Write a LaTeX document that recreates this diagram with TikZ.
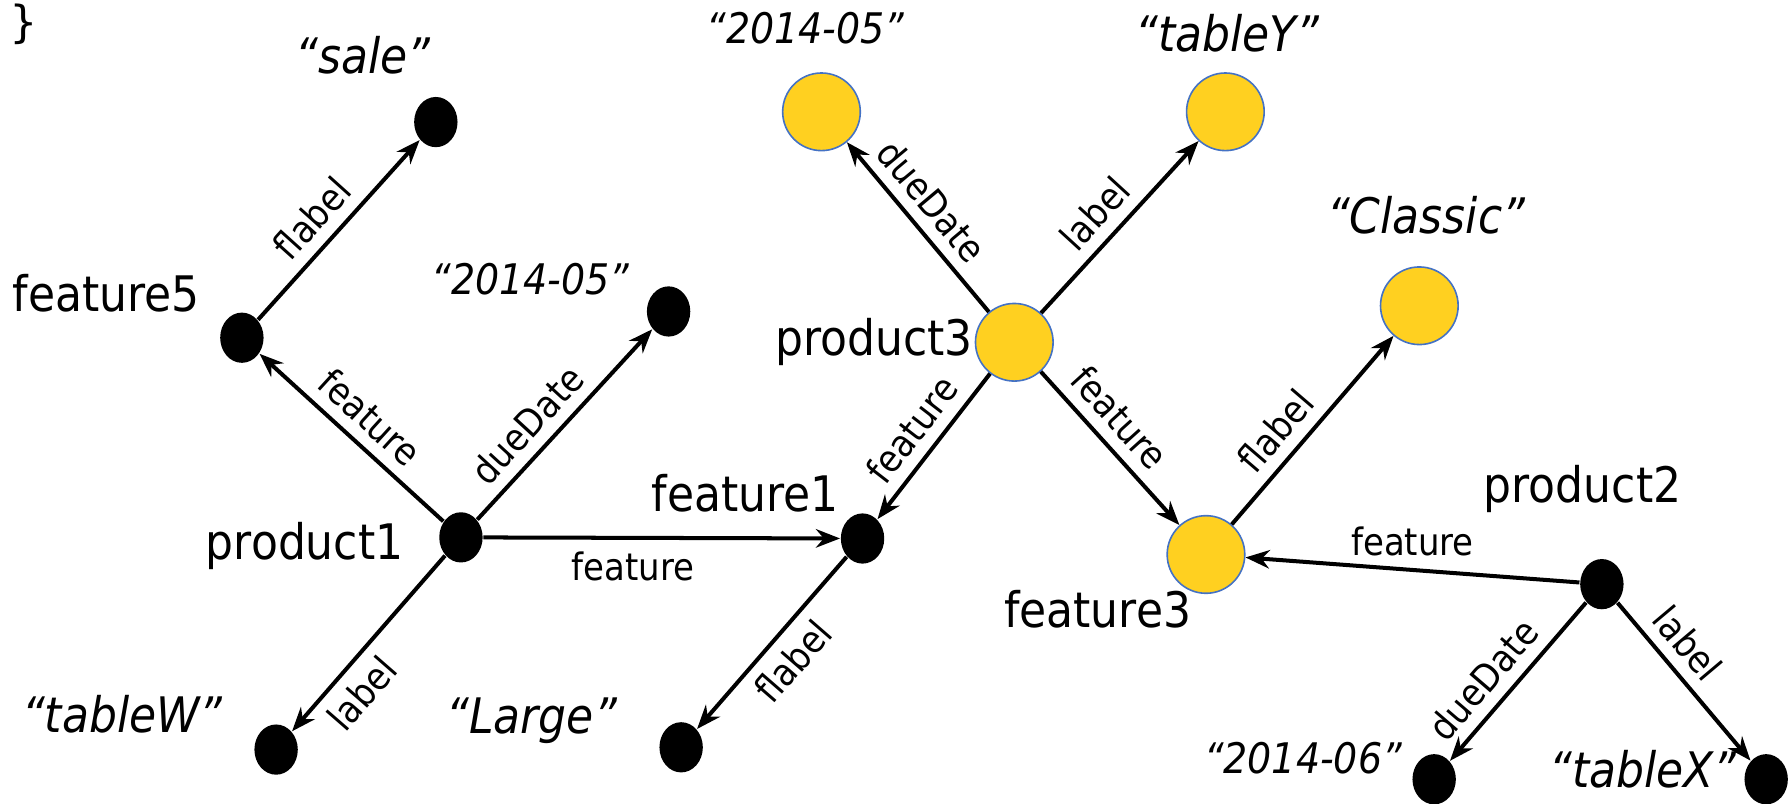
\documentclass[tikz,border=0pt]{standalone}
\usepackage{fontspec}
\setmainfont{DejaVu Sans}[FakeStretch=0.9]
\setmonofont{DejaVu Sans Mono}
\usetikzlibrary{arrows.meta,shapes.geometric}
\definecolor{gold}{RGB}{255,208,32}
\definecolor{rim}{RGB}{68,114,196}
\begin{document}
\begin{tikzpicture}[x=0.01cm,y=-0.01cm,
  bnode/.style={ellipse,fill=black,inner sep=0pt,minimum width=0.38cm,minimum height=0.44cm},
  ynode/.style={circle,fill=gold,draw=rim,line width=0.4pt,inner sep=0pt,minimum size=0.68cm},
  nlab/.style={anchor=base,inner sep=0pt,font=\fontsize{12.2}{14}\selectfont},
  vlab/.style={anchor=base,inner sep=0pt,font=\fontsize{12.2}{14}\selectfont\itshape},
  dlab/.style={anchor=base,inner sep=0pt,font=\fontsize{10.5}{12}\selectfont\itshape},
  elab/.style={font=\fontsize{9.4}{11}\selectfont,inner sep=2.8pt,sloped},
  hlab/.style={font=\fontsize{9.4}{11}\selectfont,inner sep=3pt},
  arr/.style={-{Stealth[length=6pt,width=4.6pt]},line width=1pt}
]
\useasboundingbox (0,0) rectangle (1568,704);

% brace
\node[anchor=center,inner sep=0pt,font=\fontsize{11}{13}\selectfont\ttfamily] (brace) at (21,21) {\}};

% black nodes
\node[bnode] (sale) at (382,107) {};
\node[bnode] (f5) at (212,296) {};
\node[bnode] (d1) at (586,273) {};
\node[bnode] (p1) at (404,471) {};
\node[bnode] (f1) at (756,472) {};
\node[bnode] (tw) at (242,657) {};
\node[bnode] (lg) at (597,655) {};
\node[bnode] (p2) at (1404,512) {};
\node[bnode] (d6) at (1257,683) {};
\node[bnode] (tx) at (1548,683) {};

% yellow nodes
\node[ynode] (d3) at (720,98) {};
\node[ynode] (ty) at (1074,98) {};
\node[ynode] (cl) at (1244,268) {};
\node[ynode] (p3) at (889,300) {};
\node[ynode] (f3) at (1057,486) {};

% text labels
\node[vlab] (tsale) at (318,64) {“sale”};
\node[dlab] (td1) at (465,258) {“2014-05”};
\node[nlab] (tf5) at (93,273) {feature5};
\node[nlab] (tp1) at (267,490) {product1};
\node[nlab] (tf1) at (653,448) {feature1};
\node[vlab] (ttw) at (107,642) {“tableW”};
\node[vlab] (tlg) at (466,643) {“Large”};
\node[dlab] (td3) at (706,38) {“2014-05”};
\node[vlab] (tty) at (1076,45) {“tableY”};
\node[vlab] (tcl) at (1250,205) {“Classic”};
\node[nlab] (tp3) at (766,312) {product3};
\node[nlab] (tp2) at (1387,440) {product2};
\node[nlab] (tf3) at (962,550) {feature3};
\node[dlab] (td6) at (1142,678) {“2014-06”};
\node[vlab] (ttx) at (1440,690) {“tableX”};

% edges
\draw[arr] (f5) -- node[elab,above,pos=0.46] {flabel} (sale);
\draw[arr] (p1) -- node[elab,above,pos=0.5] {feature} (f5);
\draw[arr] (p1) -- node[elab,above,pos=0.4] {dueDate} (d1);
\draw[arr] (p1) -- node[elab,below,pos=0.68] {label} (tw);
\draw[arr] (p1) -- node[hlab,below,pos=0.42] {feature} (f1);
\draw[arr] (f1) -- node[elab,below,pos=0.5] {flabel} (lg);
\draw[arr] (p3) -- node[elab,above,pos=0.55] {dueDate} (d3);
\draw[arr] (p3) -- node[elab,above,pos=0.47] {label} (ty);
\draw[arr] (p3) -- node[elab,above,pos=0.5] {feature} (f1);
\draw[arr] (p3) -- node[elab,above,pos=0.42] {feature} (f3);
\draw[arr] (f3) -- node[elab,above,pos=0.4] {flabel} (cl);
\draw[arr] (p2) -- node[hlab,above,pos=0.5] {feature} (f3);
\draw[arr] (p2) -- node[elab,above,pos=0.6] {dueDate} (d6);
\draw[arr] (p2) -- node[elab,above,pos=0.37] {label} (tx);
\end{tikzpicture}
\end{document}
